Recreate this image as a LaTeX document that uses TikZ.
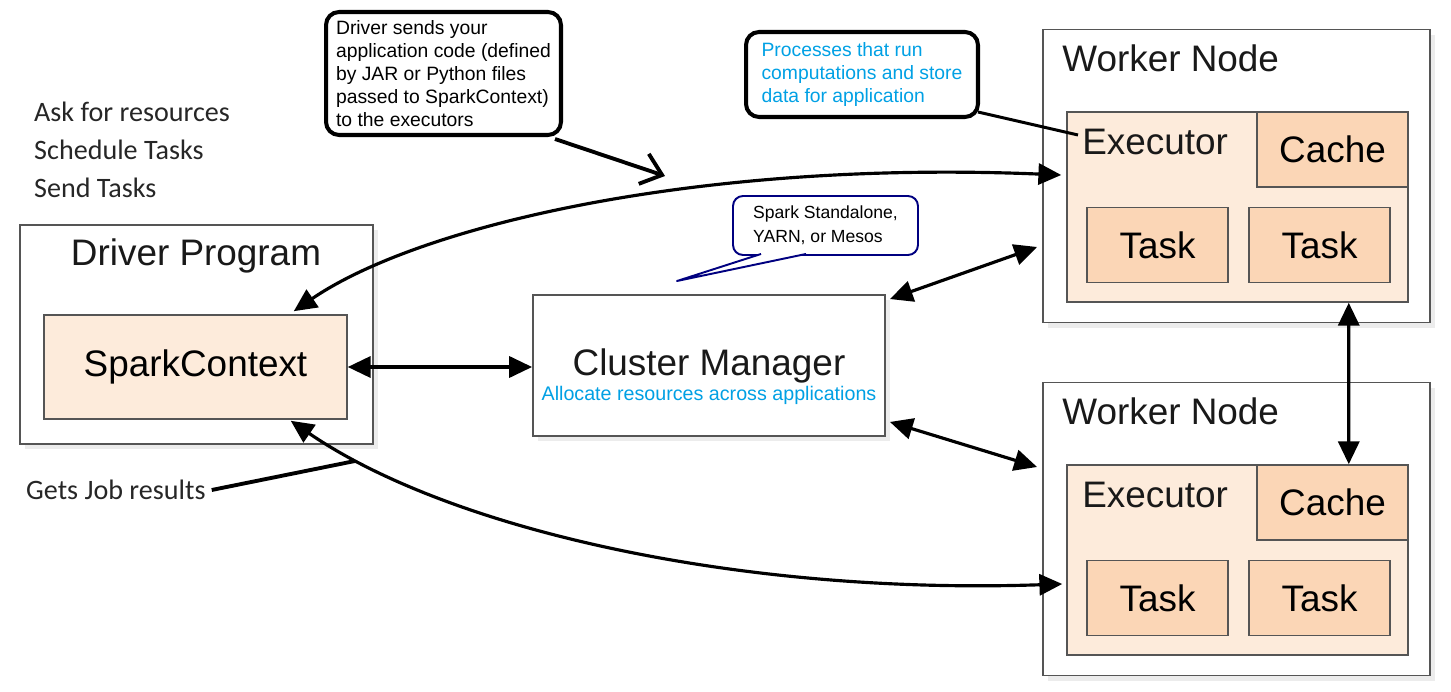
\documentclass[tikz,border=0pt]{standalone}
\usepackage{fontspec}
\setmainfont{Liberation Sans}
\newfontfamily\calibrifont{Carlito}
\usetikzlibrary{positioning,calc,shadows,arrows.meta}

\definecolor{boxline}{RGB}{85,85,85}
\definecolor{execfill}{RGB}{253,235,219}
\definecolor{taskfill}{RGB}{251,214,182}
\definecolor{noteblue}{RGB}{0,160,228}
\definecolor{notenavy}{RGB}{0,0,128}

\newcommand{\biglbl}{\fontsize{21}{25}\selectfont}
\newcommand{\notefont}{\fontsize{11}{13}\selectfont}
\newcommand{\sidefont}{\calibrifont\fontsize{16}{21.5}\selectfont}

\begin{document}
\begin{tikzpicture}[
    x=0.02cm, y=-0.02cm,
    box/.style={rectangle, draw=boxline, line width=1.1pt, fill=white},
    shadowed/.style={drop shadow={opacity=0.15, shadow xshift=3pt, shadow yshift=-3pt}},
    exec/.style={rectangle, draw=boxline, line width=0.9pt, fill=execfill, minimum width=6.82cm, minimum height=3.8cm},
    part/.style={rectangle, draw=boxline, line width=0.9pt, fill=taskfill, font=\biglbl},
    lbl/.style={inner sep=0pt, font=\biglbl, text=black!90},
    note/.style={rectangle, draw, line width=2.3pt, rounded corners=0.26cm, align=left, font=\notefont},
    side/.style={align=left, font=\sidefont, text=black!85},
    arrow/.style={{Triangle[length=13pt,width=12pt]}-{Triangle[length=13pt,width=12pt]}, line width=1.8pt},
    pointer/.style={line width=2.2pt}
]
    \useasboundingbox (0,0) rectangle (1451,692);

    \node[box, shadowed, minimum width=7.06cm, minimum height=4.38cm] (driver) at (196.5,334.5) {};
    \node[lbl] (driverlbl) at (196,256) {Driver Program};
    \node[rectangle, draw=boxline, line width=0.9pt, fill=execfill, minimum width=6.06cm, minimum height=2.08cm, font=\biglbl] (sc) at (195.5,367) {SparkContext};

    \node[box, shadowed, minimum width=7.04cm, minimum height=2.82cm] (cm) at (709,365.5) {};
    \node[lbl] (cmlbl) at (709,366) {Cluster Manager};
    \node[inner sep=0pt, font=\fontsize{11.2}{13}\selectfont, text=noteblue] (cmsub) at (709,395) {Allocate resources across applications};

    \foreach \i/\yoff in {1/0,2/353} {
        \node[box, shadowed, minimum width=7.74cm, minimum height=5.86cm] (w\i) at (1236.5,176+\yoff) {};
        \node[lbl, anchor=west] (wlbl\i) at (1062,58+\yoff) {Worker Node};
        \node[exec] (ex\i) at (1237.5,207+\yoff) {};
        \node[lbl, anchor=west] (exlbl\i) at (1082,142+\yoff) {Executor};
        \node[part, minimum width=3.02cm, minimum height=1.5cm] (cache\i) at (1332.5,149.5+\yoff) {Cache};
        \node[part, minimum width=2.82cm, minimum height=1.5cm] (taska\i) at (1157.5,245+\yoff) {Task};
        \node[part, minimum width=2.82cm, minimum height=1.5cm] (taskb\i) at (1319.5,245+\yoff) {Task};
    }

    \node[side, anchor=west] (steps) at (28,150) {Ask for resources\\Schedule Tasks\\Send Tasks};
    \node[side, anchor=west] (jobres) at (20,490) {Gets Job results};

    \node[note, minimum width=4.7cm, minimum height=2.46cm] (sendcode) at (443.5,73.5) {Driver sends your\\application code (defined\\by JAR or Python files\\passed to SparkContext)\\to the executors};
    \node[note, text=noteblue, minimum width=4.64cm, minimum height=1.7cm] (procs) at (862,74.5) {Processes that run\\computations and store\\data for application};
    \node[note, draw=notenavy, line width=1.1pt, rounded corners=0.2cm, font=\fontsize{10}{13.6}\selectfont, minimum width=3.7cm, minimum height=1.18cm] (cmtypes) at (825.5,225.5) {Spark Standalone,\\YARN, or Mesos};

    \coordinate (codetip) at (665,176);
    \coordinate (cmtip) at (677,281);
    \coordinate (jobtip) at (355,461);

    \draw[pointer, -{Straight Barb[length=11pt,width=18pt]}] ($(sendcode.south east)+(-8,2)$) -- (codetip);
    \draw[pointer, line width=1.7pt] ($(procs.south east)+(-2,-7)$) -- ($(exlbl1.west)+(-4,-7)$);
    \draw[pointer] (jobres.east) -- (jobtip);
    \filldraw[draw=notenavy, fill=white, line width=1.1pt, line join=round] ($(cmtypes.south west)+(29,-2)$) -- (cmtip) -- ($(cmtypes.south west)+(74,-2)$);

    \draw[arrow] (sc.east) -- (sc.east -| cm.west);
    \draw[arrow] ($(cm.north east)+(4,5)$) -- ($(w1.west)+(-5,71)$);
    \draw[arrow] ($(cm.south east)+(4,-15)$) -- ($(w2.west)+(-5,-62)$);
    \draw[arrow] ($(ex1.south east)+(-60,0)$) -- ($(cache2.north east)+(-60,0)$);
    \draw[arrow] ($(sc.north east)+(-54,-3)$) .. controls (420,225) and (700,160) .. ($(ex1.west)+(-5,-32)$);
    \draw[arrow] ($(sc.south east)+(-57,1)$) .. controls (450,530) and (740,595) .. ($(ex2.west)+(-4,24)$);
\end{tikzpicture}
\end{document}
